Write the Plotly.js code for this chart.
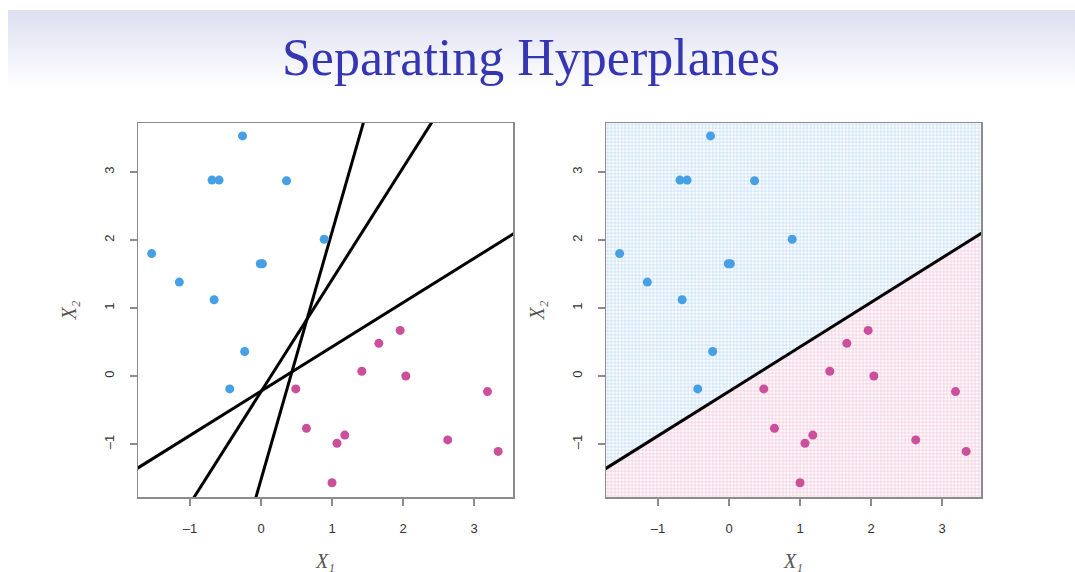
<!DOCTYPE html>
<html>
<head>
<meta charset="utf-8">
<script src="https://cdn.plot.ly/plotly-3.0.1.min.js"></script>
<style>
  html, body { margin: 0; padding: 0; background: #ffffff; }
  #wrap { position: relative; width: 1075px; height: 572px; }
  #band { position: absolute; left: 8px; top: 10px; width: 1067px; height: 78px;
          background: linear-gradient(to bottom, #dedff0 0%, #ecedf7 45%, #ffffff 100%); }
  #chart { position: absolute; left: 0; top: 0; width: 1075px; height: 572px; }
</style>
</head>
<body>
<div id="wrap">
  <div id="band"></div>
  <div id="chart"></div>
</div>
<script>
// ---- data ----
const blueX = [-0.26, -0.69, -0.59, 0.36, 0.89, -1.54, -0.01, 0.02, -1.15, -0.66, -0.23, -0.44];
const blueY = [3.53, 2.88, 2.88, 2.87, 2.01, 1.80, 1.65, 1.65, 1.38, 1.12, 0.36, -0.19];
const pinkX = [0.49, 0.64, 1.07, 1.18, 1.00, 1.42, 1.66, 1.96, 2.04, 2.63, 3.19, 3.34];
const pinkY = [-0.19, -0.77, -0.99, -0.87, -1.57, 0.07, 0.48, 0.67, 0.00, -0.94, -0.23, -1.11];
// hyperplanes X2 = intercept + slope * X1 (left panel: three candidates)
const lineIntercepts = [-0.224, -0.232, -1.525];
const lineSlopes = [0.651, 1.647, 3.64];
// right panel: the separating hyperplane used for classification
const sepIntercept = -0.226;
const sepSlope = 0.654;
const xTicks = [-1, 0, 1, 2, 3];
const yTicks = [-1, 0, 1, 2, 3];
const titleText = "Separating Hyperplanes";
const xTitle = "X\u2081";
const yTitle = "X\u2082";

// ---- layout constants ----
const xRange = [-1.732, 3.549];
const yRange = [-1.78, 3.72];
const blue = "#46a0e6";
const pink = "#cc4f9b";

function lineTrace(a, b, xa, ya) {
  const xs = [xRange[0] - 1, xRange[1] + 1];
  return { x: xs, y: xs.map(v => a + b * v), mode: "lines", type: "scatter",
           line: { color: "#000", width: 3 }, xaxis: xa, yaxis: ya, hoverinfo: "skip" };
}
function ptsTrace(xs, ys, col, xa, ya) {
  return { x: xs, y: ys, mode: "markers", type: "scatter",
           marker: { color: col, size: 9 }, xaxis: xa, yaxis: ya, cliponaxis: true };
}

const traces = [];
// right-panel shaded regions
const ex0 = xRange[0], ex1 = xRange[1];
const ly0 = sepIntercept + sepSlope * ex0, ly1 = sepIntercept + sepSlope * ex1;
traces.push({ x: [ex0, ex1, ex1, ex0, ex0], y: [ly0, ly1, yRange[1], yRange[1], ly0],
  type: "scatter", mode: "none", fill: "toself", fillcolor: "#ffffff",
  fillpattern: { shape: "+", size: 3.5, solidity: 0.3, fgcolor: "#b3d3f2", bgcolor: "#fbfdff" },
  xaxis: "x2", yaxis: "y2", hoverinfo: "skip" });
traces.push({ x: [ex0, ex1, ex1, ex0, ex0], y: [ly0, ly1, yRange[0], yRange[0], ly0],
  type: "scatter", mode: "none", fill: "toself", fillcolor: "#ffffff",
  fillpattern: { shape: "+", size: 3.5, solidity: 0.3, fgcolor: "#efbcd3", bgcolor: "#fefafc" },
  xaxis: "x2", yaxis: "y2", hoverinfo: "skip" });

for (let i = 0; i < lineIntercepts.length; i++) {
  traces.push(lineTrace(lineIntercepts[i], lineSlopes[i], "x", "y"));
}
traces.push(ptsTrace(blueX, blueY, blue, "x", "y"));
traces.push(ptsTrace(pinkX, pinkY, pink, "x", "y"));

traces.push(lineTrace(sepIntercept, sepSlope, "x2", "y2"));
traces.push(ptsTrace(blueX, blueY, blue, "x2", "y2"));
traces.push(ptsTrace(pinkX, pinkY, pink, "x2", "y2"));

const tickFont = { family: "Liberation Sans, Arial, sans-serif", size: 13, color: "#333" };
const axTitleFont = { family: "Liberation Serif, serif", size: 20, color: "#555", style: "italic" };

function xAxis(domain, anchor) {
  return { domain: domain, anchor: anchor, range: xRange, tickvals: xTicks,
    ticktext: xTicks.map(v => v < 0 ? "\u2013" + Math.abs(v) : String(v)),
    showgrid: false, zeroline: false, showline: true, mirror: true,
    linecolor: "#8c8c8c", linewidth: 1.5, ticks: "outside", ticklen: 7, tickwidth: 1.2,
    tickcolor: "#8c8c8c", ticklabelstandoff: 12,
    tickfont: tickFont,
    title: { text: xTitle, standoff: 22, font: axTitleFont } };
}
function yAxis(domain, anchor) {
  return { domain: domain, anchor: anchor, range: yRange, tickvals: yTicks,
    ticktext: yTicks.map(v => v < 0 ? "\u2013" + Math.abs(v) : String(v)),
    tickangle: -90,
    showgrid: false, zeroline: false, showline: true, mirror: true,
    linecolor: "#8c8c8c", linewidth: 1.5, ticks: "outside", ticklen: 7, tickwidth: 1.2,
    tickcolor: "#8c8c8c", ticklabelstandoff: 10,
    tickfont: tickFont,
    title: { text: yTitle, standoff: 20, font: axTitleFont } };
}

const yDom = [1 - 497 / 572, 1 - 123 / 572];
const layout = {
  width: 1075, height: 572,
  margin: { l: 0, r: 0, t: 0, b: 0 },
  paper_bgcolor: "rgba(0,0,0,0)", plot_bgcolor: "#ffffff",
  showlegend: false,
  title: { text: titleText, x: 531 / 1075, xanchor: "center", y: 1 - 57 / 572, yanchor: "middle",
           font: { family: "Liberation Serif, serif", size: 52, color: "#3636b4" } },
  xaxis: xAxis([138 / 1075, 513 / 1075], "y"),
  yaxis: yAxis(yDom, "x"),
  xaxis2: xAxis([606 / 1075, 981 / 1075], "y2"),
  yaxis2: yAxis(yDom, "x2")
};

Plotly.newPlot("chart", traces, layout, { staticPlot: true, displayModeBar: false });
</script>
</body>
</html>
